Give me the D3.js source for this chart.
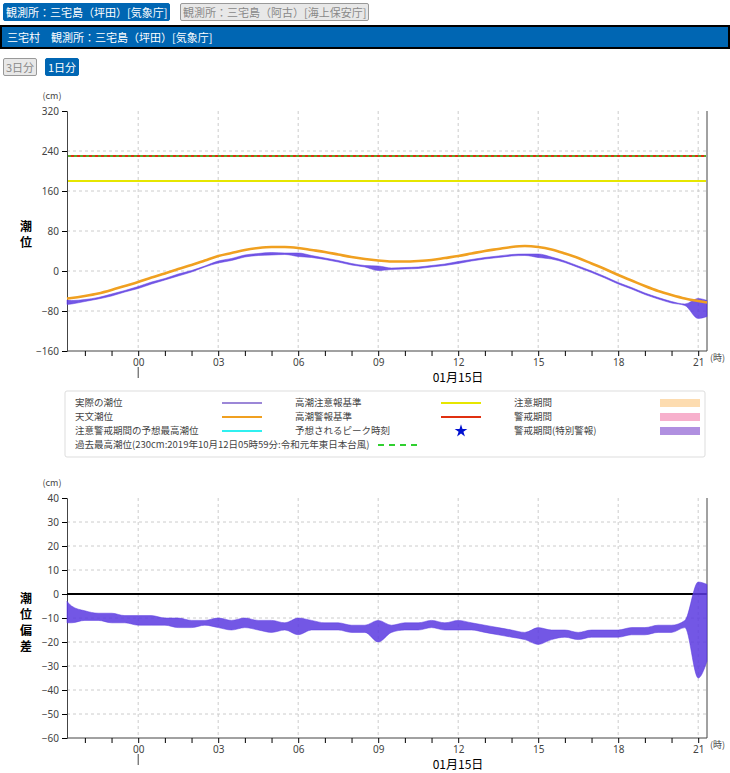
<!DOCTYPE html>
<html><head><meta charset="utf-8">
<script src="https://cdn.jsdelivr.net/npm/d3@7"></script>
<style>
body{margin:0;font-family:"Noto Sans CJK JP","Noto Sans",sans-serif;background:#fff;}
.btn{position:absolute;font-size:11px;line-height:16px;padding:0 2px;border:1px solid #999;border-radius:2px;white-space:nowrap;}
.on{background:#0066b3;color:#fff;border-color:#0066b3;}
.off{background:#e8e8e8;color:#888;}
#bar{position:absolute;left:0;top:25px;width:726px;height:20px;background:#0066b3;border:2px solid #000;color:#fff;font-size:11px;line-height:20px;}
svg{position:absolute;left:0;top:0;}
</style></head><body>
<div class="btn on" style="left:3px;top:3px">観測所：三宅島（坪田）[気象庁]</div>
<div class="btn off" style="left:180px;top:3px">観測所：三宅島（阿古）[海上保安庁]</div>
<div id="bar">&nbsp;&nbsp;三宅村　観測所：三宅島（坪田）[気象庁]</div>
<div class="btn off" style="left:3px;top:58px">3日分</div>
<div class="btn on" style="left:45px;top:58px">1日分</div>
<svg id="c" width="730" height="773"></svg>
<script>
// hours relative to 00:00 on 01/15
const times = [-2.67,-2.5,-2,-1.5,-1,-0.5,0,0.5,1,1.5,2,2.5,3,3.5,4,4.5,5,5.5,6,6.5,7,7.5,8,8.5,9,9.5,10,10.5,11,11.5,12,12.5,13,13.5,14,14.5,15,15.5,16,16.5,17,17.5,18,18.5,19,19.5,20,20.5,21,21.33];
const astro = [-55,-54,-50,-45,-38,-30,-22,-13,-5,4,12,21,30,36,42,46,48,48,46,42,38,33,28,24,21,19,19,20,22,26,30,35,40,44,48,50,48,43,35,26,15,4,-8,-19,-30,-40,-48,-55,-60,-63];
const devLo = [-12,-12,-11,-11,-12,-12,-13,-13,-13,-14,-14,-13,-14,-15,-14,-15,-16,-15,-17,-15,-15,-15,-16,-16,-20,-16,-15,-15,-14,-15,-15,-15,-16,-17,-18,-19,-21,-19,-18,-19,-18,-18,-18,-17,-17,-16,-16,-14,-35,-28];
const devHi = [-3,-5,-7,-8,-8,-9,-9,-9,-10,-10,-11,-11,-10,-11,-10,-11,-11,-12,-10,-11,-12,-12,-13,-13,-11,-13,-12,-12,-11,-12,-11,-12,-13,-14,-15,-16,-14,-15,-15,-16,-15,-15,-15,-14,-14,-13,-13,-11,5,4];
const lines = [{v:180,c:"#e6e600",name:"注意"},{v:230,c:"#e03010",name:"警報"}];
const pastMax = 230;
const legendRows = [
  ["実際の潮位","line","#3a10b0","高潮注意報基準","line","#e6e600","注意期間","box","#fddcb0"],
  ["天文潮位","line","#f0a020","高潮警報基準","line","#e03010","警戒期間","box","#f7b0cc"],
  ["注意警戒期間の予想最高潮位","line","#30f0f0","予想されるピーク時刻","star","#0010d0","警戒期間(特別警報)","box","#b090e0"]
];
const hourTicks = d3.range(-2,22);
const labelTicks = [0,3,6,9,12,15,18,21];

const svg = d3.select("#c");
const x = d3.scaleLinear().domain([-2.67,21.33]).range([67,707]);
const fmt = h => (h<10?"0":"")+h;
const purple = "#5a3ae0";

function frame(y, yTicks, top, bottom, label, labelY) {
  const g = svg.append("g");
  g.selectAll(".gy").data(yTicks.slice(1,-1)).join("line")
    .attr("x1",67).attr("x2",707).attr("y1",d=>y(d)).attr("y2",d=>y(d))
    .attr("stroke","#ccc").attr("stroke-dasharray","3,3");
  g.selectAll(".gx").data(labelTicks).join("line")
    .attr("x1",d=>x(d)).attr("x2",d=>x(d)).attr("y1",top).attr("y2",bottom)
    .attr("stroke","#ccc").attr("stroke-dasharray","3,3");
  g.append("g").attr("transform","translate(67,0)")
    .call(d3.axisLeft(y).tickValues(yTicks).tickSize(5).tickPadding(3))
    .call(a=>a.selectAll("text").attr("fill","#444").style("font-size","10px").style("font-family","Noto Sans"))
    .call(a=>a.select(".domain").attr("stroke","#444"));
  g.append("line").attr("x1",707).attr("x2",707).attr("y1",top).attr("y2",bottom).attr("stroke","#444");
  g.append("g").attr("transform",`translate(0,${bottom})`)
    .call(d3.axisBottom(x).tickValues(hourTicks).tickSize(5).tickFormat(d=>labelTicks.includes(d)?fmt(d):""))
    .call(a=>a.selectAll("text").attr("fill","#444").style("font-size","10px").style("font-family","Noto Sans"))
    .call(a=>a.select(".domain").attr("d",`M67,0H707`).attr("stroke","#444"));
  g.append("line").attr("x1",x(0)).attr("x2",x(0)).attr("y1",bottom+16).attr("y2",bottom+27).attr("stroke","#444");
  g.append("text").attr("x",710).attr("y",bottom+10).text("(時)").style("font-size","9px").attr("fill","#444");
  g.append("text").attr("x",458).attr("y",bottom+31).attr("text-anchor","middle").text("01月15日").style("font-size","12px");
  g.append("text").attr("x",52).attr("y",top-12).attr("text-anchor","middle").text("(cm)").style("font-size","9px").attr("fill","#444");
  g.selectAll(".lab").data(label).join("text").attr("x",26).attr("y",(d,i)=>labelY+i*16)
    .attr("text-anchor","middle").text(d=>d).style("font-size","12px").style("font-weight","bold");
  return g;
}

// top chart
const y1 = d3.scaleLinear().domain([-160,320]).range([351,111]);
frame(y1, d3.range(-160,321,80), 111, 351, ["潮","位"], 231);
const pts = times.map((t,i)=>({t, a:astro[i], lo:astro[i]+devLo[i], hi:astro[i]+devHi[i]}));
svg.append("path").datum(pts).attr("fill",purple).attr("fill-opacity",0.85).attr("stroke",purple).attr("stroke-width",0.5)
  .attr("d", d3.area().x(d=>x(d.t)).y0(d=>y1(d.lo)).y1(d=>y1(d.hi)).curve(d3.curveMonotoneX));
svg.append("path").datum(pts).attr("fill","none").attr("stroke","#f0a020").attr("stroke-width",2.6)
  .attr("d", d3.line().x(d=>x(d.t)).y(d=>y1(d.a)).curve(d3.curveMonotoneX));
svg.selectAll(".lim").data(lines).join("line").attr("x1",68).attr("x2",706)
  .attr("y1",d=>y1(d.v)).attr("y2",d=>y1(d.v)).attr("stroke",d=>d.c).attr("stroke-width",2);
svg.append("line").attr("x1",68).attr("x2",706).attr("y1",y1(pastMax)).attr("y2",y1(pastMax))
  .attr("stroke","#30d030").attr("stroke-width",1.5).attr("stroke-dasharray","3,3");

// legend
const lg = svg.append("g");
lg.append("rect").attr("x",65).attr("y",391).attr("width",640).attr("height",66).attr("rx",2)
  .attr("fill","#fff").attr("stroke","#ddd");
const colX = [[75,222],[295,441],[514,660]];
legendRows.forEach((r,ri)=>{
  const yy = 403+ri*14;
  for (let c=0;c<3;c++){
    const [tx,sx]=colX[c]; const [name,kind,col]=r.slice(c*3,c*3+3);
    lg.append("text").attr("x",tx).attr("y",yy+3).text(name).style("font-size","9.5px").attr("fill","#444");
    if (kind==="line") lg.append("line").attr("x1",sx).attr("x2",sx+40).attr("y1",yy).attr("y2",yy).attr("stroke",col).attr("stroke-width",ri==0&&c==0?1.2:2);
    else if (kind==="box") lg.append("rect").attr("x",sx).attr("y",yy-4).attr("width",40).attr("height",8).attr("fill",col);
    else lg.append("path").attr("d",d3.symbol(d3.symbolStar,50)()).attr("transform",`translate(${sx+20},${yy})`).attr("fill",col);
  }
});
lg.append("text").attr("x",75).attr("y",448).text("過去最高潮位(230cm:2019年10月12日05時59分:令和元年東日本台風)").style("font-size","9.5px").attr("fill","#444");
lg.append("line").attr("x1",378).attr("x2",418).attr("y1",445).attr("y2",445).attr("stroke","#30d030").attr("stroke-width",2).attr("stroke-dasharray","6,5");

// bottom chart
const y2 = d3.scaleLinear().domain([-60,40]).range([738,498]);
frame(y2, d3.range(-60,41,10), 498, 738, ["潮","位","偏","差"], 603);
svg.append("line").attr("x1",67).attr("x2",707).attr("y1",y2(0)).attr("y2",y2(0)).attr("stroke","#000").attr("stroke-width",2);
svg.append("path").datum(pts.map((d,i)=>({t:d.t,lo:devLo[i],hi:devHi[i]}))).attr("fill",purple).attr("fill-opacity",0.85).attr("stroke",purple).attr("stroke-width",0.5)
  .attr("d", d3.area().x(d=>x(d.t)).y0(d=>y2(d.lo)).y1(d=>y2(d.hi)).curve(d3.curveMonotoneX));
</script></body></html>
